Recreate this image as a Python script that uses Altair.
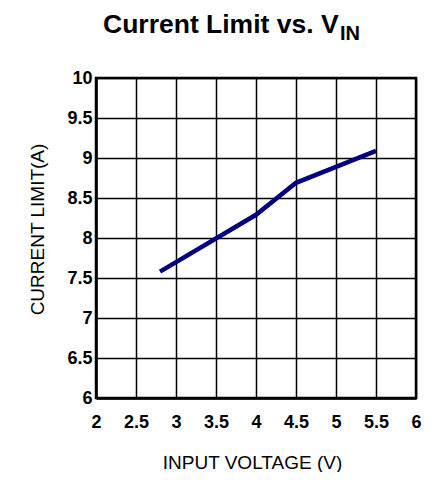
import altair as alt
import pandas as pd

# data
vin = [2.8, 4.0, 4.5, 5.0, 5.5]
ilim = [7.58, 8.29, 8.69, 8.89, 9.09]
x_ticks = [2, 2.5, 3, 3.5, 4, 4.5, 5, 5.5, 6]
y_ticks = [6, 6.5, 7, 7.5, 8, 8.5, 9, 9.5, 10]
title_main = ["Current Limit vs. V"]
title_sub = ["IN"]

df = pd.DataFrame({"vin": vin, "ilim": ilim})
FONT = "Liberation Sans"

line = alt.Chart(df).mark_line(color="#000080", strokeWidth=4.5).encode(
    x=alt.X("vin:Q",
            scale=alt.Scale(domain=[2, 6], nice=False, zero=False),
            axis=alt.Axis(values=x_ticks, format="~g", title="INPUT VOLTAGE (V)",
                          labelFont=FONT, labelFontSize=18, labelFontWeight="bold",
                          labelColor="black", labelPadding=15, tickSize=0,
                          grid=True, gridColor="black", gridWidth=1.5, gridOpacity=1,
                          domainColor="black", domainWidth=2.5,
                          titleFont=FONT, titleFontSize=19, titleFontWeight="normal",
                          titleColor="black", titleX=156, titleY=70,
                          titleBaseline="alphabetic", titleAlign="center",
                          labelFlush=False, labelOverlap=False)),
    y=alt.Y("ilim:Q",
            scale=alt.Scale(domain=[6, 10], nice=False, zero=False),
            axis=alt.Axis(values=y_ticks, format="~g", title="CURRENT LIMIT(A)",
                          labelFont=FONT, labelFontSize=18, labelFontWeight="bold",
                          labelColor="black", labelPadding=4, tickSize=0,
                          grid=True, gridColor="black", gridWidth=1.5, gridOpacity=1,
                          domainColor="black", domainWidth=2.5,
                          titleFont=FONT, titleFontSize=19, titleFontWeight="normal",
                          titleColor="black", titleX=-59, titleY=151,
                          titleBaseline="middle", titleAlign="center", titleAngle=270,
                          labelFlush=False, labelOverlap=False)),
)

t1 = alt.Chart(pd.DataFrame({"t": title_main})).mark_text(
    font=FONT, fontSize=26.5, fontWeight="bold", align="left",
    baseline="alphabetic", color="black"
).encode(text="t:N", x=alt.value(7), y=alt.value(-45))

t2 = alt.Chart(pd.DataFrame({"t": title_sub})).mark_text(
    font=FONT, fontSize=20, fontWeight="bold", align="left",
    baseline="alphabetic", color="black"
).encode(text="t:N", x=alt.value(244), y=alt.value(-38))

chart = alt.layer(line, t1, t2).properties(
    width=320, height=320,
    padding={"left": 88, "top": 70, "right": 12, "bottom": 74},
    autosize=alt.AutoSizeParams(type="none"),
    background="white",
).configure_view(stroke="black", strokeWidth=2.5)

chart.save("out.html", embed_options={"renderer": "svg", "actions": False})
